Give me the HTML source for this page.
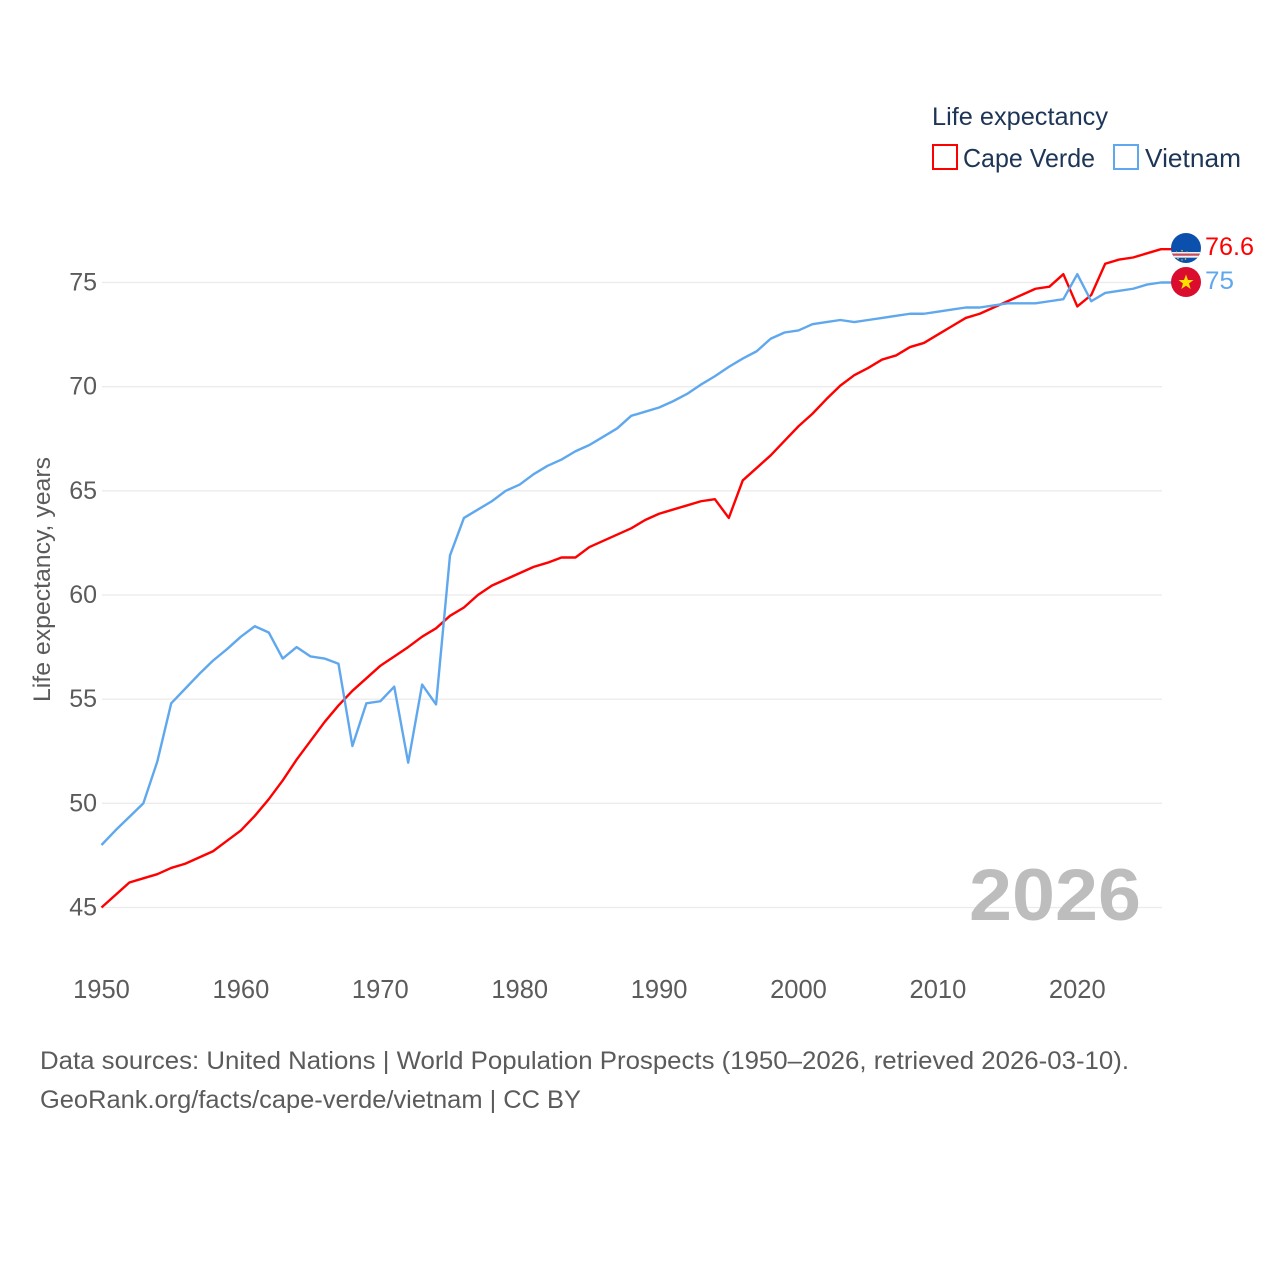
<!DOCTYPE html>
<html lang="en">
<head>
<meta charset="utf-8">
<title>Life expectancy: Cape Verde and Vietnam</title>
<style>
html,body{margin:0;padding:0;background:#fff}
svg{display:block}
text{font-family:"Liberation Sans",sans-serif}
</style>
</head>
<body>
<svg id="chart" xmlns="http://www.w3.org/2000/svg" width="1280" height="1280" viewBox="0 0 1280 1280">
  <defs>
    <clipPath id="cv-clip"><circle cx="1186" cy="248" r="15"/></clipPath>
    <clipPath id="vn-clip"><circle cx="1186" cy="282" r="15"/></clipPath>
  </defs>
  <rect width="1280" height="1280" fill="#fff"/>
  <g id="grid"></g>
  <g id="yticks"></g>
  <g id="xticks"></g>
  <text transform="translate(50,702) rotate(-90)" font-size="24.5" fill="#5b5b5b" textLength="245" lengthAdjust="spacingAndGlyphs">Life expectancy, years</text>
  <text x="969" y="920" font-size="73" font-weight="bold" fill="#bdbdbd" textLength="172" lengthAdjust="spacingAndGlyphs">2026</text>
  <g id="lines"></g>
  <g>
    <text x="932" y="125" font-size="25" fill="#1d3557" textLength="176" lengthAdjust="spacingAndGlyphs">Life expectancy</text>
    <rect x="933" y="145" width="24" height="24" fill="#fff" stroke="#ff0000" stroke-width="2"/>
    <text x="963" y="167" font-size="26" fill="#1d3557" textLength="132" lengthAdjust="spacingAndGlyphs">Cape Verde</text>
    <rect x="1114" y="145" width="24" height="24" fill="#fff" stroke="#5fa8ee" stroke-width="2"/>
    <text x="1145" y="167" font-size="26" fill="#1d3557" textLength="96" lengthAdjust="spacingAndGlyphs">Vietnam</text>
  </g>
  <g clip-path="url(#cv-clip)">
    <rect x="1170" y="232" width="32" height="32" fill="#0a50ac"/>
    <rect x="1170" y="252" width="32" height="1.700" fill="#eef0f4"/>
    <rect x="1170" y="253.700" width="32" height="2" fill="#d8454f"/>
    <rect x="1170" y="255.700" width="32" height="2" fill="#eef0f4"/>
    <circle cx="1182" cy="250.700" r="0.800" fill="#f7d116"/>
    <circle cx="1176.500" cy="252" r="0.600" fill="#f7d116"/>
    <circle cx="1187" cy="252" r="0.600" fill="#f7d116"/>
    <circle cx="1178" cy="258.500" r="0.800" fill="#f7d116"/>
    <circle cx="1182" cy="260" r="0.700" fill="#f7d116"/>
    <circle cx="1185.500" cy="259" r="0.800" fill="#f7d116"/>
  </g>
  <g clip-path="url(#vn-clip)">
    <rect x="1170" y="266" width="32" height="32" fill="#da0d2e"/>
    <polygon points="1186,274.5 1188,280 1193.5,280 1189,283.5 1190.7,289 1186,285.7 1181.3,289 1183,283.5 1178.500,280 1184,280" fill="#ffde00"/>
  </g>
  <text id="value-cape-verde" x="1205" y="255" font-size="25" fill="#ff0000" textLength="49" lengthAdjust="spacingAndGlyphs"></text>
  <text id="value-vietnam" x="1205" y="289" font-size="25" fill="#5fa8ee" textLength="29" lengthAdjust="spacingAndGlyphs"></text>
  <g>
    <text x="40" y="1069" font-size="25" fill="#5b5b5b" textLength="1089" lengthAdjust="spacingAndGlyphs">Data sources: United Nations | World Population Prospects (1950–2026, retrieved 2026-03-10).</text>
    <text x="40" y="1108" font-size="25" fill="#5b5b5b" textLength="541" lengthAdjust="spacingAndGlyphs">GeoRank.org/facts/cape-verde/vietnam | CC BY</text>
  </g>
</svg>
<script>
const startYear = 1950;
const xTickYears = [1950, 1960, 1970, 1980, 1990, 2000, 2010, 2020];
const yTickValues = [45, 50, 55, 60, 65, 70, 75];
const capeVerde = [
  45.0, 45.6, 46.2, 46.4, 46.6, 46.9, 47.1, 47.4, 47.7, 48.2,
  48.7, 49.4, 50.2, 51.1, 52.1, 53.0, 53.9, 54.7, 55.4, 56.0,
  56.6, 57.05, 57.5, 58.0, 58.4, 59.0, 59.4, 60.0, 60.45, 60.75,
  61.05, 61.35, 61.55, 61.8, 61.8, 62.3, 62.6, 62.9, 63.2, 63.6,
  63.9, 64.1, 64.3, 64.5, 64.6, 63.7, 65.5, 66.1, 66.7, 67.4,
  68.1, 68.7, 69.4, 70.05, 70.55, 70.9, 71.3, 71.5, 71.9, 72.1,
  72.5, 72.9, 73.3, 73.5, 73.8, 74.1, 74.4, 74.7, 74.8, 75.4,
  73.85, 74.4, 75.9, 76.1, 76.2, 76.4, 76.6
];
const vietnam = [
  48.0, 48.7, 49.35, 50.0, 52.0, 54.8, 55.5, 56.2, 56.85, 57.4,
  58.0, 58.5, 58.2, 56.95, 57.5, 57.05, 56.95, 56.7, 52.75, 54.8,
  54.9, 55.6, 51.95, 55.7, 54.75, 61.9, 63.7, 64.1, 64.5, 65.0,
  65.3, 65.8, 66.2, 66.5, 66.9, 67.2, 67.6, 68.0, 68.6, 68.8,
  69.0, 69.3, 69.65, 70.1, 70.5, 70.95, 71.35, 71.7, 72.3, 72.6,
  72.7, 73.0, 73.1, 73.2, 73.1, 73.2, 73.3, 73.4, 73.5, 73.5,
  73.6, 73.7, 73.8, 73.8, 73.9, 74.0, 74.0, 74.0, 74.1, 74.2,
  75.4, 74.1, 74.5, 74.6, 74.7, 74.9, 75.0
];

const NS = 'http://www.w3.org/2000/svg';
function xScale(year) { return 101.5 + (year - 1950) * 13.94; }
function yScale(value) { return 907.5 - (value - 45) * (907.5 - 282.5) / 30; }

const grid = document.getElementById('grid');
const yticks = document.getElementById('yticks');
const xticks = document.getElementById('xticks');
const lines = document.getElementById('lines');

yTickValues.forEach(function (v) {
  const line = document.createElementNS(NS, 'line');
  
  
  line.setAttribute('x1', 102);
  line.setAttribute('x2', 1162);
  line.setAttribute('y1', yScale(v));
  line.setAttribute('y2', yScale(v));
  line.setAttribute('stroke', '#ebebeb');
  line.setAttribute('stroke-width', '1.3');
  grid.appendChild(line);

  const t = document.createElementNS(NS, 'text');
  
  
  t.setAttribute('x', 97);
  t.setAttribute('y', yScale(v) + 8);
  t.setAttribute('text-anchor', 'end');
  t.setAttribute('font-size', '25');
  t.setAttribute('fill', '#5b5b5b');
  t.textContent = String(v);
  yticks.appendChild(t);
});

xTickYears.forEach(function (y) {
  const t = document.createElementNS(NS, 'text');
  
  
  t.setAttribute('x', xScale(y));
  t.setAttribute('y', 998);
  t.setAttribute('text-anchor', 'middle');
  t.setAttribute('font-size', '25.500');
  t.setAttribute('fill', '#5b5b5b');
  t.textContent = String(y);
  xticks.appendChild(t);
});

function drawSeries(values, color, name) {
  const pts = values.map(function (v, i) {
    return xScale(startYear + i).toFixed(2) + ',' + yScale(v).toFixed(2);
  });
  // the line runs on flat at the final value until it reaches the flag marker
  pts.push('1186,' + yScale(values[values.length - 1]).toFixed(2));
  const p = document.createElementNS(NS, 'polyline');
  
  
  p.setAttribute('fill', 'none');
  p.setAttribute('stroke', color);
  p.setAttribute('stroke-width', '2.4');
  p.setAttribute('stroke-linejoin', 'round');
  p.setAttribute('points', pts.join(' '));
  lines.appendChild(p);
}
drawSeries(capeVerde, '#ff0000', 'line-cape-verde');
drawSeries(vietnam, '#5fa8ee', 'line-vietnam');

document.getElementById('value-cape-verde').textContent = String(capeVerde[capeVerde.length - 1]);
document.getElementById('value-vietnam').textContent = String(vietnam[vietnam.length - 1]);
</script>
</body>
</html>
